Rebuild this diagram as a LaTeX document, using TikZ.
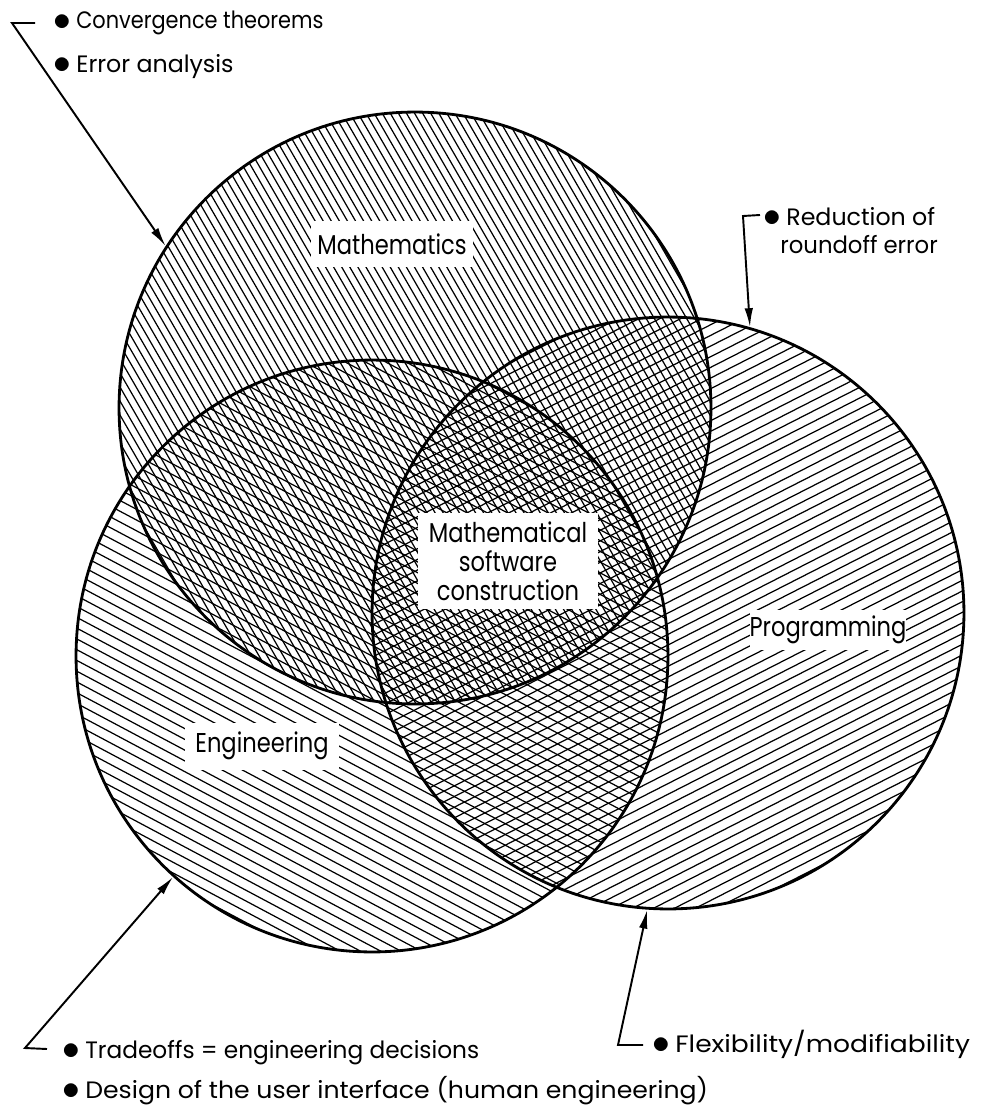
\documentclass[tikz,border=0pt]{standalone}
\usepackage{fontspec}
\setmainfont{Poppins}
\newfontfamily\labfont{Poppins}[FakeStretch=0.83]
\usetikzlibrary{arrows.meta}
\newcommand{\blt}{\raisebox{-1pt}{\scalebox{1.4}{$\bullet$}}\hspace{3pt}}
\begin{document}
\begin{tikzpicture}[x=0.02cm,y=-0.02cm,
  rim/.style={circle, draw, line width=1.6pt, minimum size=11.84cm, inner sep=0pt},
  hatch/.style={line width=0.7pt},
  lab/.style={fill=white, inner sep=0pt, font=\labfont\fontsize{15.5}{16.5}\selectfont},
  note/.style={anchor=base west, inner sep=0pt, font=\fontsize{13.5}{15}\selectfont},
  pointer/.style={line width=1.1pt, -{Latex[length=0.38cm,width=0.17cm]}},
]
\useasboundingbox (0,0) rectangle (980,1105);

% hatching: Mathematics
\begin{scope}
  \clip (415,408) circle[radius=5.92cm];
  \begin{scope}[shift={(415,408)}, rotate=-60]
    \foreach \k in {-44,...,44} \draw[hatch] (-310,\k*7) -- (310,\k*7);
  \end{scope}
\end{scope}
% hatching: Engineering
\begin{scope}
  \clip (372,656) circle[radius=5.92cm];
  \begin{scope}[shift={(372,656)}, rotate=-28]
    \foreach \k in {-33,...,33} \draw[hatch] (-310,\k*9.5) -- (310,\k*9.5);
  \end{scope}
\end{scope}
% hatching: Programming
\begin{scope}
  \clip (668,613) circle[radius=5.92cm];
  \begin{scope}[shift={(668,613)}, rotate=27]
    \foreach \k in {-33,...,33} \draw[hatch] (-310,\k*9.5) -- (310,\k*9.5);
  \end{scope}
\end{scope}

% circles
\node[rim] (math) at (415,408) {};
\node[rim] (eng)  at (372,656) {};
\node[rim] (prog) at (668,613) {};

% labels
\node[lab, minimum width=3.26cm, minimum height=0.94cm] (mlab) at (392,244) {Mathematics};
\node[lab, minimum width=3.62cm, minimum height=1.94cm, align=center] (clab) at (508,561) {Mathematical\\software\\construction};
\node[lab, minimum width=3.14cm, minimum height=0.8cm] (plab) at (828,630) {Programming};
\node[lab, minimum width=3.1cm, minimum height=0.94cm] (elab) at (262,746) {Engineering};

% notes
\node[note] (n1) at (53,29) {\blt\scalebox{0.88}[1]{Convergence theorems}};
\node[note] (n2) at (53,72) {\blt Error analysis};
\node[note] (n3) at (763,225) {\blt Reduction of};
\node[note] (n3b) at (780,253) {\scalebox{0.96}[1]{roundoff error}};
\node[note] (n4) at (62,1058) {\blt\scalebox{0.98}[1]{Tradeoffs = engineering decisions}};
\node[note] (n5) at (62,1098) {\blt\scalebox{1.06}[1]{Design of the user interface (human engineering)}};
\node[note] (n6) at (652,1052) {\blt\scalebox{1.12}[1]{Flexibility/modifiability}};

% connectors
\coordinate (k1a) at (35,23);
\coordinate (k1b) at (12,23);
\draw[pointer] (k1a) -- (k1b) -- (math.147);
\coordinate (k2a) at (760,215);
\coordinate (k2b) at (743,216);
\draw[pointer] (k2a) -- (k2b) -- (prog.74);
\coordinate (k3a) at (47,1049);
\coordinate (k3b) at (25,1048);
\draw[pointer] (k3a) -- (k3b) -- (eng.228);
\coordinate (k4a) at (643,1045);
\coordinate (k4b) at (618,1045);
\draw[pointer] (k4a) -- (k4b) -- (prog.266);
\end{tikzpicture}
\end{document}
